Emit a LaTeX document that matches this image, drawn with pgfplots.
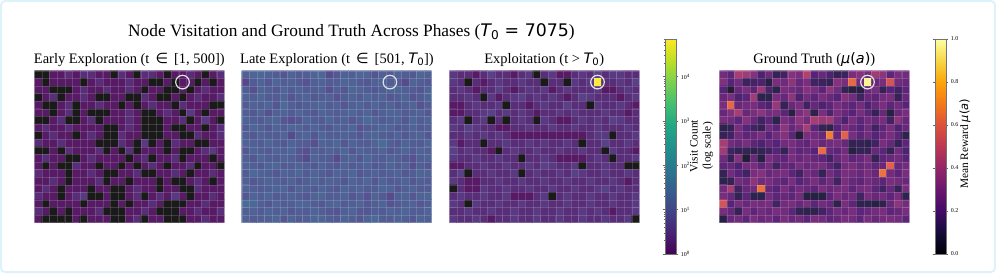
\documentclass[border=0pt]{standalone}
\usepackage{fontspec}
\setmainfont{Liberation Serif}
\newfontfamily\dvs{DejaVu Sans}
\usepackage{pgfplots}
\pgfplotsset{compat=1.18}

% count -> log10(count) (zero counts drawn black at -0.5)
\newcommand\buildcounts[2]{%
  \gdef#1{}%
  \foreach \row [count=\ri from 0] in {#2}{%
    \foreach \v [count=\ci from 0] in \row {%
      \ifnum\v=0 \def\m{-0.5}\else
        \pgfkeys{/pgf/fpu=true,/pgf/fpu/output format=fixed}%
        \pgfmathparse{ln(\v)/ln(10)}\let\m\pgfmathresult
        \pgfkeys{/pgf/fpu=false}%
      \fi
      \xdef#1{#1 (\ci,\ri) [\m]}%
    }%
  }%
}
\newcommand\buildraw[2]{%
  \gdef#1{}%
  \foreach \row [count=\ri from 0] in {#2}{%
    \foreach \v [count=\ci from 0] in \row {%
      \xdef#1{#1 (\ci,\ri) [\v]}%
    }%
  }%
}

% Early exploration visit counts (20 rows x 25 cols)
\buildcounts\earlyC{
{0,0,1,1,2,1,2,2,1,1,0,2,1,0,2,2,1,0,1,1,2,1,0,1,2},
{1,0,1,1,1,1,0,1,2,1,1,1,2,1,1,0,0,1,0,1,1,0,1,0,1},
{1,1,0,0,0,1,2,1,1,2,1,1,2,1,0,1,1,0,0,1,0,1,2,1,1},
{0,1,2,0,1,1,2,1,0,0,1,1,0,0,2,1,0,0,1,0,1,2,1,1,2},
{1,0,0,1,2,0,1,1,2,1,1,0,1,0,1,2,1,1,0,2,1,1,1,0,0},
{1,1,0,1,2,0,1,0,0,0,1,1,2,1,0,0,1,2,1,0,3,1,0,1,1},
{0,0,1,2,0,0,1,2,0,1,1,1,2,1,0,0,0,1,1,2,0,1,3,1,0},
{1,2,1,1,2,1,1,1,1,0,0,1,2,1,0,0,0,1,0,0,1,1,0,1,2},
{0,1,2,1,1,0,1,2,1,0,0,2,1,1,0,0,0,1,1,0,0,2,1,1,2},
{2,1,1,2,1,1,1,1,0,0,0,2,1,0,3,0,1,0,2,1,1,0,0,1,1},
{0,0,1,0,2,1,1,1,2,0,1,0,2,0,1,1,1,0,1,0,0,1,2,3,1},
{1,2,1,1,0,0,1,2,1,1,1,1,0,1,2,0,1,1,2,0,1,1,1,0,1},
{1,0,1,0,0,2,1,1,0,1,1,0,1,0,1,2,1,0,1,1,2,0,1,1,0},
{2,1,1,1,0,1,1,2,1,0,0,1,1,2,0,0,1,1,2,1,0,1,1,2,1},
{1,1,2,1,0,1,1,1,2,0,1,1,0,1,1,1,0,1,0,0,1,2,1,0,1},
{1,2,1,0,1,1,1,0,1,1,0,0,1,2,1,1,0,1,1,0,0,2,1,1,1},
{2,1,1,0,1,2,3,0,0,1,0,0,1,2,0,1,2,1,3,1,0,1,1,2,1},
{1,0,1,1,1,1,0,1,1,1,0,1,0,1,1,2,1,0,0,0,1,1,2,1,1},
{2,1,0,1,0,1,1,1,2,0,0,0,1,1,2,1,0,0,0,1,1,2,1,1,2},
{1,0,0,0,0,1,0,1,1,1,0,0,1,2,0,1,1,0,0,0,1,1,2,1,1}}

% Late exploration visit counts
\buildcounts\lateC{
{14,18,20,15,12,9,16,11,13,17,19,6,10,15,13,18,16,9,14,11,16,13,10,19,14},
{5,12,16,10,19,13,15,11,8,14,17,11,13,18,16,12,10,14,17,13,11,6,16,13,10},
{13,7,16,14,10,19,12,16,11,13,15,7,14,10,19,16,12,10,13,17,20,14,11,9,16},
{16,13,19,11,12,16,9,14,17,10,13,15,8,13,16,11,19,14,16,10,13,17,8,12,19},
{11,16,13,19,9,22,14,10,13,16,19,12,15,10,14,17,11,19,13,16,10,14,16,8,13},
{13,10,16,7,14,17,11,19,12,10,16,14,11,15,19,13,16,10,14,19,16,11,13,16,10},
{16,13,11,16,19,10,7,9,17,13,11,19,12,15,10,14,22,16,11,14,17,10,19,13,16},
{11,19,14,10,16,13,19,16,11,17,12,10,16,14,19,8,11,14,19,16,10,13,16,11,14},
{14,10,16,13,11,19,6,14,17,10,19,13,11,16,14,10,16,19,13,11,17,10,14,16,10},
{16,14,11,19,13,10,17,13,11,7,16,14,19,10,16,13,11,16,24,14,10,17,13,11,19},
{10,17,13,11,16,14,19,10,7,14,11,16,13,19,10,16,14,11,17,10,13,19,11,16,14},
{14,10,19,13,11,16,14,10,6,17,13,11,6,14,16,10,19,13,11,16,14,10,8,14,17},
{16,14,10,17,19,11,13,16,14,10,17,13,10,16,11,14,17,10,13,19,11,16,7,14,10},
{11,22,16,13,10,17,14,19,11,16,13,10,17,14,19,10,13,16,11,14,17,10,13,19,16},
{14,10,13,17,14,11,16,10,13,19,11,16,14,10,17,13,19,10,16,11,13,17,10,14,11},
{16,14,11,13,17,19,10,16,14,11,17,13,10,19,14,16,11,13,19,17,10,14,16,11,13},
{10,17,13,19,11,14,16,13,10,16,19,11,13,17,10,14,8,16,11,6,14,17,10,16,19},
{23,21,14,10,16,11,13,19,17,13,10,16,19,11,14,16,10,13,17,8,11,14,16,10,14},
{14,16,11,17,13,16,10,14,11,17,13,10,8,14,16,10,9,13,11,16,14,19,11,13,17},
{16,11,13,14,19,10,17,11,14,19,16,13,11,17,13,10,16,22,13,11,16,14,10,17,14}}

% Exploitation visit counts
\buildcounts\exploitC{
{3,2,2,1,2,4,2,2,1,2,3,0,2,3,1,1,2,3,2,4,2,3,3,2,2},
{3,2,0,2,1,2,3,2,2,3,2,2,0,2,2,0,3,2,3,70000,2,2,3,2,4},
{2,3,2,1,2,2,4,2,1,2,3,2,3,1,2,3,2,2,2,3,1,1,2,3,2},
{2,2,3,2,0,3,1,2,3,4,2,3,2,3,2,1,2,4,3,2,2,2,1,2,3},
{1,1,2,3,2,2,3,0,2,2,1,2,3,2,2,4,2,2,0,3,2,2,3,2,1},
{1,1,2,2,3,4,2,3,2,3,2,1,2,2,3,2,3,2,2,2,3,2,2,1,2},
{2,3,0,2,3,0,2,0,2,3,2,0,3,2,1,1,2,3,2,3,2,4,3,2,2},
{3,2,4,3,2,2,1,1,2,2,3,2,2,3,2,2,3,2,2,3,2,2,2,3,2},
{2,2,3,2,3,2,3,2,1,1,1,1,1,1,1,1,1,1,2,3,3,0,2,2,3},
{3,1,2,2,0,2,2,3,2,2,3,2,3,2,2,3,2,0,2,2,4,2,2,3,2},
{4,2,3,2,2,1,0,2,3,2,2,3,2,2,3,2,2,3,2,2,0,3,2,2,1},
{3,2,2,3,2,2,3,2,2,0,2,2,3,2,1,1,1,1,2,3,2,0,2,2,3},
{1,1,2,2,3,2,2,3,2,2,3,2,4,3,2,2,3,0,2,2,3,2,2,0,0},
{2,4,0,2,2,3,2,2,3,0,2,3,2,2,3,2,4,3,2,2,3,2,2,3,2},
{3,2,1,1,2,2,3,2,2,3,2,2,3,2,2,3,2,2,3,2,2,3,2,1,2},
{0,2,1,1,3,2,2,3,2,2,3,2,2,3,2,2,3,2,2,3,4,2,3,2,2},
{2,3,2,2,3,2,2,3,1,1,1,2,3,0,2,3,2,2,3,2,2,3,2,2,3},
{3,2,0,3,2,2,3,2,2,3,2,2,3,2,2,3,2,2,3,2,2,3,2,2,3},
{2,2,3,2,2,3,2,2,3,2,2,3,2,2,3,2,2,3,2,3,2,1,2,2,3},
{3,2,2,3,2,1,2,2,3,2,2,3,2,2,3,2,2,3,2,2,3,2,2,3,0}}

% Ground-truth mean rewards
\buildraw\truthC{
{.28,.22,.42,.40,.33,.18,.26,.12,.15,.33,.30,.45,.20,.25,.18,.12,.14,.30,.33,.28,.40,.35,.22,.30,.28},
{.32,.20,.28,.14,.16,.18,.08,.30,.27,.35,.25,.30,.15,.14,.12,.33,.30,.62,.28,.97,.25,.30,.55,.28,.25},
{.20,.05,.25,.30,.22,.38,.18,.10,.30,.28,.25,.33,.30,.22,.35,.28,.12,.08,.08,.25,.30,.12,.20,.15,.22},
{.25,.30,.18,.22,.40,.10,.10,.30,.25,.35,.18,.28,.22,.30,.25,.20,.33,.28,.15,.25,.22,.28,.30,.12,.25},
{.30,.62,.25,.28,.30,.22,.18,.38,.12,.25,.30,.15,.25,.18,.22,.30,.25,.22,.28,.18,.25,.30,.22,.28,.20},
{.25,.32,.42,.25,.30,.35,.28,.30,.22,.08,.30,.35,.10,.30,.18,.30,.25,.20,.30,.22,.12,.25,.08,.25,.30},
{.30,.28,.22,.33,.25,.15,.22,.10,.30,.25,.35,.28,.42,.38,.40,.28,.18,.30,.22,.28,.25,.30,.15,.35,.25},
{.10,.12,.30,.20,.15,.12,.28,.22,.35,.25,.30,.42,.22,.12,.10,.20,.30,.25,.20,.28,.15,.22,.30,.18,.25},
{.12,.15,.28,.22,.25,.30,.20,.28,.33,.22,.05,.30,.28,.25,.68,.25,.60,.30,.22,.28,.20,.25,.30,.22,.10},
{.42,.28,.25,.30,.22,.18,.25,.20,.28,.30,.25,.22,.30,.25,.28,.30,.25,.12,.12,.10,.15,.30,.25,.12,.22},
{.40,.15,.12,.12,.10,.12,.15,.20,.12,.28,.22,.25,.20,.63,.25,.22,.28,.08,.12,.12,.25,.22,.12,.28,.18},
{.28,.12,.33,.05,.25,.08,.30,.25,.22,.30,.25,.28,.25,.22,.15,.25,.30,.22,.25,.30,.12,.22,.25,.28,.20},
{.22,.25,.18,.28,.30,.22,.28,.15,.25,.22,.30,.25,.28,.30,.22,.15,.28,.30,.25,.28,.22,.25,.60,.25,.28},
{.12,.28,.20,.15,.30,.33,.25,.28,.30,.22,.15,.28,.25,.12,.28,.22,.30,.28,.25,.30,.25,.65,.28,.22,.30},
{.10,.12,.28,.25,.35,.28,.30,.25,.22,.30,.20,.25,.30,.22,.28,.15,.30,.25,.22,.28,.25,.22,.30,.28,.25},
{.28,.42,.15,.25,.28,.65,.25,.20,.30,.22,.28,.25,.22,.30,.25,.28,.30,.22,.28,.30,.22,.15,.25,.12,.30},
{.30,.25,.12,.22,.10,.10,.28,.22,.25,.22,.28,.08,.08,.08,.22,.30,.25,.28,.15,.30,.25,.28,.22,.30,.10},
{.55,.20,.30,.25,.30,.28,.30,.15,.28,.30,.25,.30,.22,.28,.25,.10,.30,.22,.10,.10,.08,.10,.25,.35,.28},
{.30,.25,.12,.30,.22,.28,.25,.30,.28,.22,.12,.10,.10,.15,.22,.28,.25,.30,.22,.25,.28,.30,.22,.25,.30},
{.08,.25,.28,.22,.30,.25,.28,.22,.30,.25,.28,.22,.30,.28,.22,.25,.30,.28,.22,.30,.25,.28,.30,.28,.22}}

\pgfplotsset{
  colormap={vzero}{rgb255(0pt)=(26,26,26) rgb255(40pt)=(26,26,26)
    rgb255(50pt)=(87,26,101) rgb255(98.5pt)=(90,58,131) rgb255(147pt)=(84,87,147)
    rgb255(195.5pt)=(73,111,152) rgb255(244pt)=(63,134,153) rgb255(292.5pt)=(55,156,151)
    rgb255(341pt)=(56,177,144) rgb255(389.5pt)=(87,197,126) rgb255(438pt)=(135,214,98)
    rgb255(486.5pt)=(196,226,60) rgb255(535pt)=(253,233,59)},
  colormap={viridisP}{rgb255(0pt)=(68,1,84) rgb255(10pt)=(72,36,117) rgb255(20pt)=(65,68,135)
    rgb255(30pt)=(53,95,141) rgb255(40pt)=(42,120,142) rgb255(50pt)=(33,145,140)
    rgb255(60pt)=(34,168,132) rgb255(70pt)=(68,191,112) rgb255(80pt)=(122,209,81)
    rgb255(90pt)=(189,223,38) rgb255(100pt)=(253,231,37)},
  colormap={infernoB}{rgb255(0pt)=(26,26,29) rgb255(10pt)=(45,35,77) rgb255(20pt)=(85,35,119)
    rgb255(30pt)=(121,46,125) rgb255(40pt)=(158,60,118) rgb255(50pt)=(195,75,101)
    rgb255(60pt)=(224,98,78) rgb255(70pt)=(244,134,48) rgb255(80pt)=(252,174,35)
    rgb255(90pt)=(247,219,89) rgb255(100pt)=(252,255,173)},
  colormap={infernoP}{rgb255(0pt)=(0,0,4) rgb255(10pt)=(22,11,57) rgb255(20pt)=(66,10,104)
    rgb255(30pt)=(106,23,110) rgb255(40pt)=(147,38,103) rgb255(50pt)=(188,55,84)
    rgb255(60pt)=(221,81,58) rgb255(70pt)=(243,120,25) rgb255(80pt)=(252,165,10)
    rgb255(90pt)=(246,215,70) rgb255(100pt)=(252,255,164)},
  hmPanel/.style={scale only axis, width=190bp, height=152bp, anchor=south west,
    xmin=-0.5, xmax=24.5, ymin=-0.5, ymax=19.5, y dir=reverse, enlargelimits=false,
    axis on top, axis line style={draw=none},
    xtick={-0.5,0.5,...,24.5}, ytick={-0.5,0.5,...,19.5},
    xticklabel=\empty, yticklabel=\empty,
    x tick label style={opacity=0}, y tick label style={opacity=0},
    major tick length=0pt, tick style={draw=none},
    grid=major, grid style={white, line width=0.4bp, opacity=0.15}},
  hmCells/.style={matrix plot*, mesh/cols=25, point meta=explicit},
  hmRing/.style={only marks, mark=o, mark size=6.8bp,
    mark options={draw=white!88!black, line width=1.2bp, fill=none}},
  hmCbar/.style={scale only axis, width=10.6bp, height=215bp, anchor=south west,
    hide axis, xmin=0, xmax=1, ymin=0, ymax=1, colorbar},
}
\definecolor{framec}{RGB}{222,242,250}

\begin{document}
\begin{tikzpicture}[x=1bp,y=1bp]
\useasboundingbox (0,0) rectangle (996,273);
\draw[framec, line width=2bp, rounded corners=4bp] (1,1) rectangle (995,272);

% Colorbar 1 (log scale)
\begin{axis}[hmCbar, at={(656.7bp,19bp)}, colormap name=viridisP, point meta min=0, point meta max=4.85,
  colorbar style={at={(parent axis.south west)}, anchor=south west,
    scale only axis, width=10.6bp, height=215bp,
    ytick={0,1,2,3,4},
    yticklabels={10\textsuperscript{0},10\textsuperscript{1},10\textsuperscript{2},10\textsuperscript{3},10\textsuperscript{4}},
    minor ytick={0.301,0.477,0.602,0.699,0.778,0.845,0.903,0.954,
      1.301,1.477,1.602,1.699,1.778,1.845,1.903,1.954,
      2.301,2.477,2.602,2.699,2.778,2.845,2.903,2.954,
      3.301,3.477,3.602,3.699,3.778,3.845,3.903,3.954,
      4.301,4.477,4.602,4.699,4.778,4.845},
    yticklabel style={font=\fontsize{6}{7}\selectfont, xshift=-1bp},
    tick align=outside, major tick length=2.5bp, minor tick length=1.5bp,
    tick style={black!60, line width=0.4bp},
    axis line style={black!55, line width=0.6bp}}]
\addplot[draw=none] coordinates {(0,0)};
\end{axis}
% Colorbar 2
\begin{axis}[hmCbar, at={(926.7bp,19bp)}, colormap name=infernoP, point meta min=0, point meta max=1,
  colorbar style={at={(parent axis.south west)}, anchor=south west,
    scale only axis, width=10.6bp, height=215bp,
    ytick={0,0.2,0.4,0.6,0.8,1},
    yticklabels={0.0,0.2,0.4,0.6,0.8,1.0},
    yticklabel style={font=\fontsize{6}{7}\selectfont, xshift=-1bp},
    tick align=outside, major tick length=2.5bp,
    tick style={black!60, line width=0.4bp},
    axis line style={black!55, line width=0.6bp}}]
\addplot[draw=none] coordinates {(0,0)};
\end{axis}

\node[anchor=base west, font=\fontsize{17.4}{20}\selectfont, inner sep=0] at (128,237)
  {Node Visitation and Ground Truth Across Phases ({\dvs\itshape T}{\dvs\textsubscript{0} = 7075})};

\node[anchor=base, font=\fontsize{14.5}{17}\selectfont, inner sep=0] at (129.3,209.7)
  {Early Exploration (t\, {\dvs ∈}\, [1, 500])};
\node[anchor=base, font=\fontsize{14.5}{17}\selectfont, inner sep=0] at (337,209.7)
  {Late Exploration (t\, {\dvs ∈}\, [501, {\dvs\itshape T}{\dvs\textsubscript{0}}])};
\node[anchor=base, font=\fontsize{14.5}{17}\selectfont, inner sep=0] at (544.3,209.7)
  {Exploitation (t > {\dvs\itshape T}{\dvs\textsubscript{0}})};
\node[anchor=base, font=\fontsize{14.5}{17}\selectfont, inner sep=0] at (814.3,209.7)
  {Ground Truth ({\dvs\itshape μ}{\dvs(}{\dvs\itshape a}{\dvs)})};

% Panel 1
\begin{axis}[hmPanel, at={(34.3bp,50.3bp)}, colormap name=vzero, point meta min=-0.5, point meta max=4.85]
\edef\tmp{\noexpand\addplot[hmCells] coordinates {\earlyC};}\tmp
\addplot[hmRing] coordinates {(19,1)};
\end{axis}
% Panel 2
\begin{axis}[hmPanel, at={(241.7bp,50.3bp)}, colormap name=vzero, point meta min=-0.5, point meta max=4.85]
\edef\tmp{\noexpand\addplot[hmCells] coordinates {\lateC};}\tmp
\addplot[hmRing] coordinates {(19,1)};
\end{axis}
% Panel 3
\begin{axis}[hmPanel, at={(449.3bp,50.3bp)}, colormap name=vzero, point meta min=-0.5, point meta max=4.85]
\edef\tmp{\noexpand\addplot[hmCells] coordinates {\exploitC};}\tmp
\addplot[hmRing] coordinates {(19,1)};
\end{axis}
% Panel 4
\begin{axis}[hmPanel, at={(719.3bp,50.3bp)}, colormap name=infernoB, point meta min=0, point meta max=1]
\edef\tmp{\noexpand\addplot[hmCells] coordinates {\truthC};}\tmp
\addplot[hmRing] coordinates {(19,1)};
\end{axis}

\node[rotate=90, align=center, font=\fontsize{11.4}{13}\selectfont, inner sep=0] at (701.5,127)
  {Visit Count\\(log scale)};
\node[rotate=90, font=\fontsize{11.4}{13}\selectfont, inner sep=0] at (965,129)
  {Mean Reward {\dvs\itshape μ}{\dvs(}{\dvs\itshape a}{\dvs)}};
\end{tikzpicture}
\end{document}
